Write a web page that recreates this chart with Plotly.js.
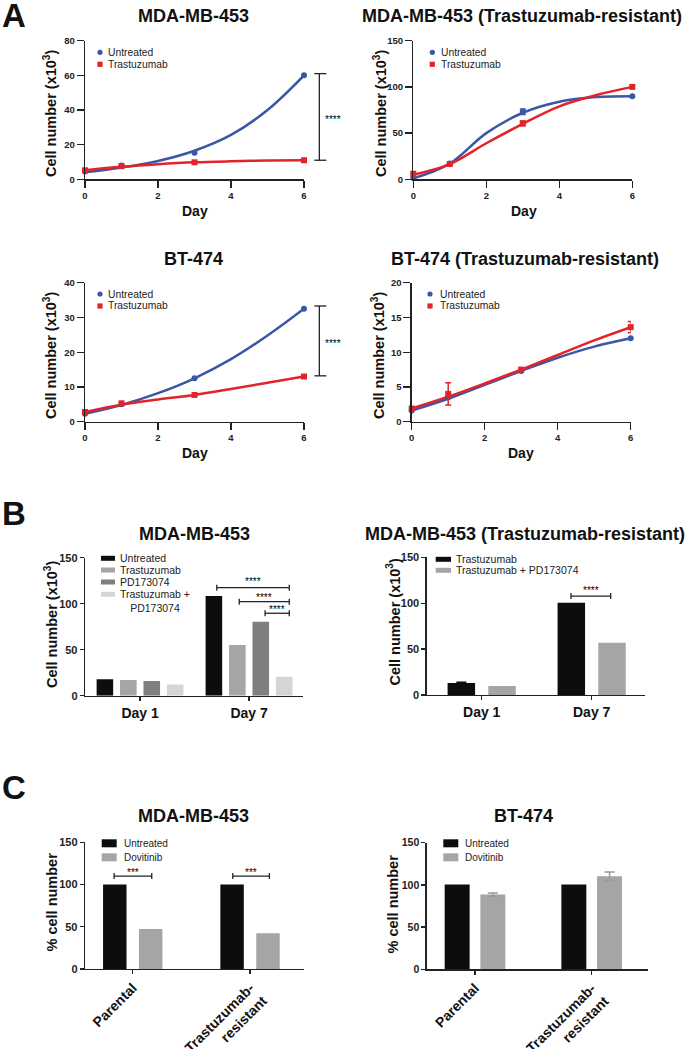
<!DOCTYPE html>
<html>
<head>
<meta charset="utf-8">
<script src="https://cdn.plot.ly/plotly-3.0.1.min.js"></script>
<style>
html,body{margin:0;padding:0;background:#fff;}
#chart{width:691px;height:1049px;}
</style>
</head>
<body>
<div id="chart"></div>
<script>
// ================= DATA =================
const days = [0, 1, 3, 6];
const fitDays = [0, 1, 2, 3, 4, 5, 6];
const growthNames = ['Untreated', 'Trastuzumab'];

// A - MDA-MB-453
const a1Untreated = [4.5, 7.9, 15.3, 60];
const a1Trastuzumab = [5.2, 7.6, 9.8, 11];
const a1UntreatedFit = [4, 6.8, 10.6, 16.5, 25.6, 40, 60];
const a1TrastuzumabFit = [5.2, 7.2, 8.7, 9.8, 10.4, 10.8, 11];
// A - MDA-MB-453 (Trastuzumab-resistant)
const a2Untreated = [1.5, 17, 73, 90];
const a2UntreatedErr = [NaN, NaN, 3, NaN];
const a2Trastuzumab = [6, 16.5, 60.5, 100];
const a2TrastuzumabErr = [NaN, NaN, 2.5, NaN];
const a2UntreatedFit = [1, 17, 50, 72, 84, 89, 90];
const a2TrastuzumabFit = [5, 16.5, 39, 60, 79, 91, 100];
// A - BT-474
const a3Untreated = [2.3, 5, 12.5, 32.5];
const a3Trastuzumab = [2.8, 5.3, 7.7, 13];
const a3UntreatedFit = [2.3, 4.8, 8.2, 12.5, 18, 24.8, 32.5];
const a3TrastuzumabFit = [2.8, 4.9, 6.4, 7.7, 9.4, 11.2, 13];
// A - BT-474 (Trastuzumab-resistant)
const a4Untreated = [1.6, 3.5, 7.3, 12];
const a4Trastuzumab = [1.9, 4, 7.5, 13.6];
const a4TrastuzumabErr = [NaN, 1.6, NaN, 0.8];
const a4UntreatedFit = [1.6, 3.3, 5.3, 7.3, 9.2, 10.8, 12];
const a4TrastuzumabFit = [1.9, 3.6, 5.5, 7.5, 9.6, 11.7, 13.6];

// B - day categories
const bDays = ['Day 1', 'Day 7'];
const b1Names = ['Untreated', 'Trastuzumab', 'PD173074', 'Trastuzumab +<br>PD173074'];
const b1Untreated = [17.8, 108.5];
const b1Trastuzumab = [17, 55];
const b1PD173074 = [16, 80.4];
const b1Combo = [12.3, 20.6];
const b2Names = ['Trastuzumab', 'Trastuzumab + PD173074'];
const b2Trastuzumab = [13.2, 100.5];
const b2TrastuzumabErr = [0.6, NaN];
const b2Combo = [9.8, 57];

// C - % cell number
const cGroups = ['Parental', 'Trastuzumab-<br>resistant'];
const cNames = ['Untreated', 'Dovitinib'];
const c1Untreated = [100, 100];
const c1Dovitinib = [47.4, 42.2];
const c2Untreated = [100.5, 100.5];
const c2Dovitinib = [88.5, 110.3];
const c2DovitinibErr = [2, 5];

// titles
const panelTitles = ['MDA-MB-453', 'MDA-MB-453 (Trastuzumab-resistant)', 'BT-474', 'BT-474 (Trastuzumab-resistant)',
  'MDA-MB-453', 'MDA-MB-453 (Trastuzumab-resistant)', 'MDA-MB-453', 'BT-474'];
const panelLetters = ['A', 'B', 'C'];
const yTitleCells = 'Cell number (x10<sup>3</sup>)';
const yTitlePct = '% cell number';
const xTitleDay = 'Day';

// ================= LAYOUT HELPERS =================
const W = 691, H = 1049;
const FONT = 'Liberation Sans, Arial, Helvetica, sans-serif';
const BLUE = '#3b56a6', RED = '#e32329';
const BLACK = '#0d0d0d', GREY = '#a5a5a7', DGREY = '#7f7f7f', LGREY = '#d5d5d5';
const INK = '#222';

const box = {
  a1: {x0: 85, x1: 304, yt: 40.7, yb: 179.3, xr: [0, 6], yr: [0, 80]},
  a2: {x0: 413.3, x1: 632.3, yt: 40.7, yb: 179.3, xr: [0, 6], yr: [0, 150]},
  a3: {x0: 85, x1: 304, yt: 282.7, yb: 421.7, xr: [0, 6], yr: [0, 40]},
  a4: {x0: 411.7, x1: 630.7, yt: 282.7, yb: 421.7, xr: [0, 6], yr: [0, 20]},
  b1: {x0: 85, x1: 303, yt: 557.7, yb: 695.7, xr: [-0.505, 1.495], yr: [0, 150]},
  b2: {x0: 426.7, x1: 645, yt: 557.3, yb: 695, xr: [-0.5, 1.485], yr: [0, 150]},
  c1: {x0: 85, x1: 304, yt: 842.3, yb: 969, xr: [-0.407, 1.46], yr: [0, 150]},
  c2: {x0: 426.7, x1: 648.3, yt: 842.7, yb: 969.3, xr: [-0.414, 1.485], yr: [0, 150]}
};
const PX = p => p / W;
const PY = p => 1 - p / H;
const xpx = (b, v) => b.x0 + (v - b.xr[0]) / (b.xr[1] - b.xr[0]) * (b.x1 - b.x0);
const ypx = (b, v) => b.yb - (v - b.yr[0]) / (b.yr[1] - b.yr[0]) * (b.yb - b.yt);

function xAxis(b, anchor, extra) {
  return Object.assign({
    domain: [PX(b.x0), PX(b.x1)], range: b.xr, anchor: anchor,
    showgrid: false, zeroline: false, showline: true, linecolor: INK, linewidth: 1.3,
    ticks: 'outside', tickcolor: INK, tickwidth: 1.3, ticklen: 7,
    tickfont: {family: FONT, size: 9.5, color: INK, weight: 'bold'}, fixedrange: true
  }, extra || {});
}
function yAxis(b, anchor, tickvals, extra) {
  return Object.assign({
    domain: [PY(b.yb), PY(b.yt)], range: b.yr, anchor: anchor, tickvals: tickvals,
    showgrid: false, zeroline: false, showline: true, linecolor: INK, linewidth: 1.3,
    ticks: 'outside', tickcolor: INK, tickwidth: 1.3, ticklen: 7,
    tickfont: {family: FONT, size: 9.5, color: INK, weight: 'bold'}, fixedrange: true
  }, extra || {});
}

// ================= TRACES =================
const traces = [];
function growth(xa, ya, untr, untrErr, untrFit, trast, trastErr, trastFit) {
  traces.push({type: 'scatter', mode: 'lines', x: fitDays, y: untrFit, xaxis: xa, yaxis: ya,
    line: {color: BLUE, width: 2.5, shape: 'spline', smoothing: 1}, cliponaxis: false, showlegend: false, hoverinfo: 'skip'});
  traces.push({type: 'scatter', mode: 'lines', x: fitDays, y: trastFit, xaxis: xa, yaxis: ya,
    line: {color: RED, width: 2.5, shape: 'spline', smoothing: 1}, cliponaxis: false, showlegend: false, hoverinfo: 'skip'});
  const pu = {type: 'scatter', mode: 'markers', name: growthNames[0], x: days, y: untr, xaxis: xa, yaxis: ya,
    marker: {symbol: 'circle', size: 6, color: BLUE}, cliponaxis: false, showlegend: false};
  if (untrErr) pu.error_y = {type: 'data', array: untrErr, visible: true, color: BLUE, thickness: 1.5, width: 3};
  const pt = {type: 'scatter', mode: 'markers', name: growthNames[1], x: days, y: trast, xaxis: xa, yaxis: ya,
    marker: {symbol: 'square', size: 6, color: RED}, cliponaxis: false, showlegend: false};
  if (trastErr) pt.error_y = {type: 'data', array: trastErr, visible: true, color: RED, thickness: 1.5, width: 3};
  traces.push(pu, pt);
}
growth('x', 'y', a1Untreated, null, a1UntreatedFit, a1Trastuzumab, null, a1TrastuzumabFit);
growth('x2', 'y2', a2Untreated, a2UntreatedErr, a2UntreatedFit, a2Trastuzumab, a2TrastuzumabErr, a2TrastuzumabFit);
growth('x3', 'y3', a3Untreated, null, a3UntreatedFit, a3Trastuzumab, null, a3TrastuzumabFit);
growth('x4', 'y4', a4Untreated, null, a4UntreatedFit, a4Trastuzumab, a4TrastuzumabErr, a4TrastuzumabFit);

function bars(xa, ya, cats, series, names, colors, width, slot, errs) {
  const n = series.length;
  series.forEach((vals, i) => {
    const t = {type: 'bar', x: cats, y: vals, name: names[i].replace('<br>', ' '), xaxis: xa, yaxis: ya,
      width: width, offset: (i - (n - 1) / 2) * slot - width / 2,
      marker: {color: colors[i], line: {width: 0}}, showlegend: false, cliponaxis: false};
    if (errs && errs[i]) t.error_y = {type: 'data', array: errs[i], visible: true, color: i === 0 ? BLACK : '#999', thickness: 1.5, width: 5};
    traces.push(t);
  });
}
bars('x5', 'y5', bDays, [b1Untreated, b1Trastuzumab, b1PD173074, b1Combo], b1Names, [BLACK, GREY, DGREY, LGREY], 0.152, 0.215);
bars('x6', 'y6', bDays, [b2Trastuzumab, b2Combo], b2Names, [BLACK, GREY], 0.25, 0.37, [b2TrastuzumabErr, null]);
bars('x7', 'y7', cGroups, [c1Untreated, c1Dovitinib], cNames, [BLACK, GREY], 0.2, 0.306);
bars('x8', 'y8', cGroups, [c2Untreated, c2Dovitinib], cNames, [BLACK, GREY], 0.214, 0.306, [null, c2DovitinibErr]);

// ================= ANNOTATIONS & SHAPES =================
const annotations = [];
const shapes = [];
function text(t, x, y, size, opts) {
  annotations.push(Object.assign({text: t, xref: 'paper', yref: 'paper', x: PX(x), y: PY(y), showarrow: false,
    xanchor: 'center', yanchor: 'middle', font: {family: FONT, size: size, color: INK}}, opts || {}));
}
function line(x0, y0, x1, y1, w) {
  shapes.push({type: 'line', xref: 'paper', yref: 'paper', x0: PX(x0), y0: PY(y0), x1: PX(x1), y1: PY(y1),
    line: {color: INK, width: w || 1.3}});
}

// panel letters
[[14, 15], [14, 513], [14, 787.5]].forEach((p, i) =>
  text(panelLetters[i], p[0], p[1], 33, {font: {family: FONT, size: 33, color: '#111', weight: 'bold'}}));
// panel titles
[[193, 16.3], [522, 16.3], [193.3, 258.8], [525, 258.8], [194, 533.7], [525, 533.7], [193.8, 816.3], [523, 816.3]]
  .forEach((p, i) => text(panelTitles[i], p[0], p[1], 18, {font: {family: FONT, size: 18, color: '#111', weight: 'bold'}}));
// y-axis titles
const yTitleFont = {family: FONT, size: 14.5, color: '#111', weight: 'bold'};
[[50, 114], [380, 114], [50, 356], [378, 356], [51, 625], [393, 622.5]].forEach(p =>
  text(yTitleCells, p[0], p[1], 14.5, {textangle: -90, font: yTitleFont}));
[[51, 902.5], [392, 903.5]].forEach(p => text(yTitlePct, p[0], p[1], 14.5, {textangle: -90, font: yTitleFont}));
// x-axis titles
[[194.5, 210.7], [524, 210.7], [194.5, 453], [521, 453]].forEach(p =>
  text(xTitleDay, p[0], p[1], 14, {font: {family: FONT, size: 14, color: '#111', weight: 'bold'}}));

// legends for growth curves
function growthLegend(mx, y0, tx) {
  const r = 2.6, y1 = y0 + 12;
  shapes.push({type: 'circle', xref: 'paper', yref: 'paper', x0: PX(mx - r), x1: PX(mx + r), y0: PY(y0 + r), y1: PY(y0 - r),
    fillcolor: BLUE, line: {width: 0}});
  shapes.push({type: 'rect', xref: 'paper', yref: 'paper', x0: PX(mx - r), x1: PX(mx + r), y0: PY(y1 + r), y1: PY(y1 - r),
    fillcolor: RED, line: {width: 0}});
  text(growthNames[0], tx, y0, 10.3, {xanchor: 'left'});
  text(growthNames[1], tx, y1, 10.3, {xanchor: 'left'});
}
growthLegend(100, 52.3, 105.5);
growthLegend(432.3, 52.3, 439.5);
growthLegend(100, 294, 105.5);
growthLegend(430, 294, 437.5);

// legends for bar charts
function barLegend(names, colors, x0, x1, rows, tx, h, size) {
  names.forEach((n, i) => {
    shapes.push({type: 'rect', xref: 'paper', yref: 'paper', x0: PX(x0), x1: PX(x1), y0: PY(rows[i] + h / 2), y1: PY(rows[i] - h / 2),
      fillcolor: colors[i], line: {width: 0}});
    const multi = n.indexOf('<br>') >= 0;
    text(n, tx, multi ? rows[i] + 6.2 : rows[i], size, {xanchor: 'left', align: 'center'});
  });
}
barLegend(b1Names, [BLACK, GREY, DGREY, LGREY], 101, 115, [558.3, 570, 582, 594.3], 118.3, 5, 10.5);
barLegend(b2Names, [BLACK, GREY], 435.7, 451, [559.3, 570.3], 454.3, 5, 10.5);
barLegend(cNames, [BLACK, GREY], 101.7, 116.7, [843.3, 857.3], 122.3, 8, 10);
barLegend(cNames, [BLACK, GREY], 443.3, 458.3, [843.3, 857.3], 463.3, 8, 10);

// significance brackets
function vBracket(b, xv, vTop, vBot, label) {
  const x = xpx(b, xv), yt = ypx(b, vTop), yb = ypx(b, vBot);
  line(x, yt, x, yb);
  line(x - 5, yt, x + 7, yt);
  line(x - 5, yb, x + 7, yb);
  text(label, x + 14, (yt + yb) / 2 + 2.5, 10, {font: {family: FONT, size: 10, color: '#000'}});
}
vBracket(box.a1, 6.42, 61, 11, '****');
vBracket(box.a3, 6.42, 33.3, 13.2, '****');

function hBracket(b, xa, xb, v, label, gap) {
  const x0 = xpx(b, xa), x1 = xpx(b, xb), y = ypx(b, v);
  line(x0, y, x1, y);
  line(x0, y - 3, x0, y + 3);
  line(x1, y - 3, x1, y + 3);
  text(label, (x0 + x1) / 2, y - gap + 2.5, 10, {font: {family: FONT, size: 10, color: '#000'}});
}
hBracket(box.b1, 0.704, 1.369, 117.4, '****', 9);
hBracket(box.b1, 0.910, 1.369, 102.2, '****', 6.5);
hBracket(box.b1, 1.147, 1.369, 89.6, '****', 6.5);
hBracket(box.b2, 0.812, 1.173, 107.8, '****', 8);
hBracket(box.c1, -0.159, 0.162, 110, '***', 6.5);
hBracket(box.c1, 0.853, 1.165, 110, '***', 6.5);

// ================= LAYOUT =================
const tickBig = {family: FONT, size: 11, color: INK, weight: 'bold'};
const catFont = {family: FONT, size: 14, color: '#111', weight: 'bold'};
const layout = {
  width: W, height: H, margin: {l: 0, r: 0, t: 0, b: 0},
  paper_bgcolor: '#fff', plot_bgcolor: 'rgba(0,0,0,0)', showlegend: false, barmode: 'overlay',
  font: {family: FONT, color: INK},
  xaxis: xAxis(box.a1, 'y', {tickvals: [0, 2, 4, 6]}),
  yaxis: yAxis(box.a1, 'x', [0, 20, 40, 60, 80]),
  xaxis2: xAxis(box.a2, 'y2', {tickvals: [0, 2, 4, 6]}),
  yaxis2: yAxis(box.a2, 'x2', [0, 50, 100, 150]),
  xaxis3: xAxis(box.a3, 'y3', {tickvals: [0, 2, 4, 6]}),
  yaxis3: yAxis(box.a3, 'x3', [0, 10, 20, 30, 40]),
  xaxis4: xAxis(box.a4, 'y4', {tickvals: [0, 2, 4, 6]}),
  yaxis4: yAxis(box.a4, 'x4', [0, 5, 10, 15, 20]),
  xaxis5: xAxis(box.b1, 'y5', {type: 'category', ticklen: 4, tickfont: catFont}),
  yaxis5: yAxis(box.b1, 'x5', [0, 50, 100, 150], {ticklen: 4, tickfont: tickBig}),
  xaxis6: xAxis(box.b2, 'y6', {type: 'category', ticklen: 4, tickfont: catFont}),
  yaxis6: yAxis(box.b2, 'x6', [0, 50, 100, 150], {ticklen: 4, tickfont: tickBig}),
  xaxis7: xAxis(box.c1, 'y7', {type: 'category', ticklen: 4, tickangle: -45, tickfont: catFont}),
  yaxis7: yAxis(box.c1, 'x7', [0, 50, 100, 150], {ticklen: 4, tickfont: tickBig}),
  xaxis8: xAxis(box.c2, 'y8', {type: 'category', ticklen: 4, tickangle: -45, tickfont: catFont}),
  yaxis8: yAxis(box.c2, 'x8', [0, 50, 100, 150], {ticklen: 4, tickfont: {family: FONT, size: 10.5, color: INK, weight: 'bold'}}),
  annotations: annotations,
  shapes: shapes
};

Plotly.newPlot('chart', traces, layout, {displayModeBar: false, staticPlot: true});
</script>
</body>
</html>
